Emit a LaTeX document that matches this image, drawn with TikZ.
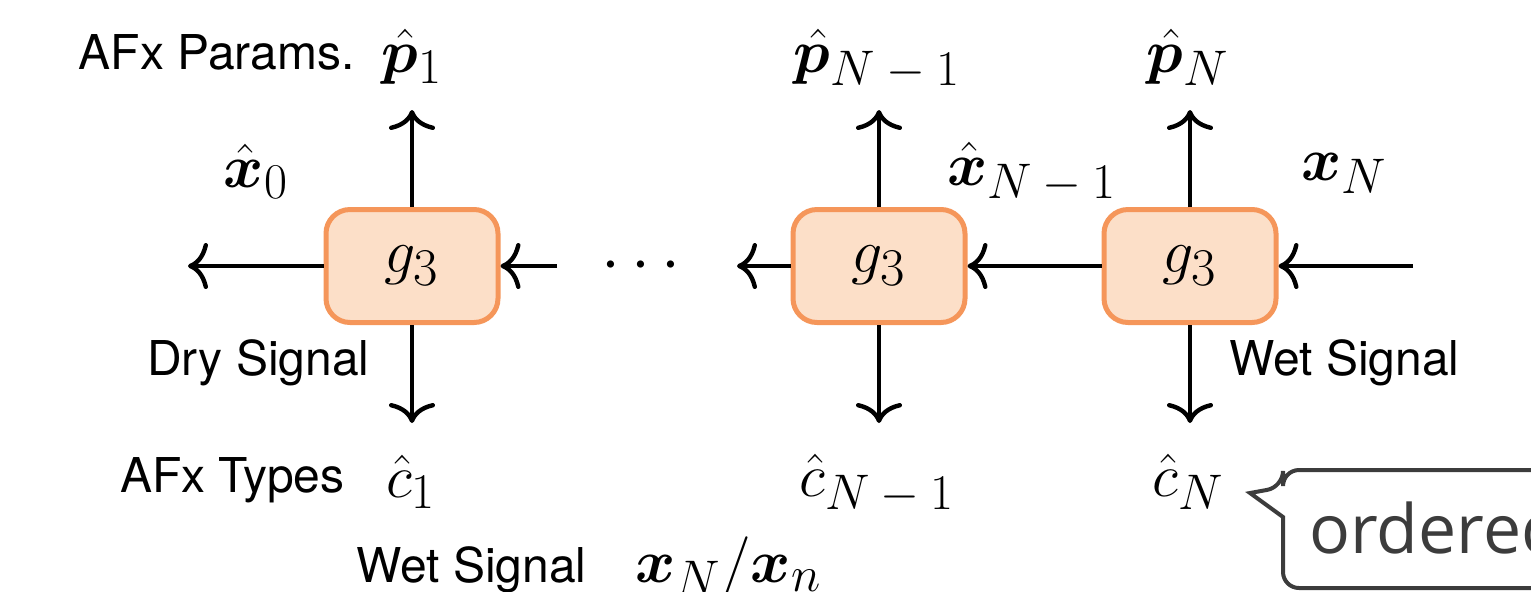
\RequirePackage{fix-cm}
\documentclass[tikz,border=0pt]{standalone}
\usepackage{amsmath}
\usepackage{bm}
\usepackage[no-math]{fontspec}
\setmainfont{TeX Gyre Heros}
\newfontfamily\bubblefont{Open Sans}
\usetikzlibrary{arrows.meta,positioning}

\definecolor{gfill}{RGB}{252,223,200}
\definecolor{gedge}{RGB}{245,150,90}
\definecolor{bubbleline}{RGB}{60,60,60}

% subscripts set in text style, a bit smaller than the base
\newcommand{\lsub}[1]{_{\mbox{\fontsize{25}{28}\selectfont$#1$}}}
\newcommand{\gsub}[1]{_{\mbox{\fontsize{26.5}{28}\selectfont$#1$}}}

\tikzset{
  gblock/.style={draw=gedge, fill=gfill, line width=2.5pt, rounded corners=12pt,
    minimum width=86pt, minimum height=56.5pt, inner sep=0pt,
    font=\fontsize{31}{34}\selectfont},
  flow/.style={-{Computer Modern Rightarrow[length=10pt,width=23pt]}, line width=2.2pt},
  lbl/.style={font=\fontsize{24}{28}\selectfont, inner sep=0pt, anchor=base east},
  mlbl/.style={font=\fontsize{30.5}{34}\selectfont, inner sep=0pt, anchor=base},
}

\begin{document}
\begin{tikzpicture}[x=0.5pt,y=-0.5pt]
\useasboundingbox (0,0) rectangle (1531,591);
\clip (0,0) rectangle (1531,591);

% the three blocks
\node[gblock] (g1) at (412,266) {$g\gsub{3}$};
\node[gblock] (g2) at (879,266) {$g\gsub{3}$};
\node[gblock] (g3) at (1190,266) {$g\gsub{3}$};
\node[mlbl, font=\fontsize{34}{38}\selectfont] (dots) at (647,281) {$\cdots$};

% free ends of the arrows
\coordinate (x0end) at (188,266);
\coordinate (in1) at (557,266);
\coordinate (out2) at (737,266);
\coordinate (inN) at (1413,266);
\coordinate (top) at (0,110);
\coordinate (bot) at (0,423);

\draw[flow] (g1) -- (x0end);
\draw[flow] (in1) -- (g1);
\draw[flow] (g2) -- (out2);
\draw[flow] (g3) -- (g2);
\draw[flow] (inN) -- (g3);
\foreach \g in {g1,g2,g3} {
  \draw[flow] (\g) -- (\g |- top);
  \draw[flow] (\g) -- (\g |- bot);
}

% parameters and types
\node[mlbl] (p1) at (412,72) {$\hat{\bm p}\lsub{1}$};
\node[mlbl] (pN1) at (877,72) {$\hat{\bm p}\lsub{N-1}$};
\node[mlbl] (pN) at (1188,72) {$\hat{\bm p}\lsub{N}$};
\node[mlbl] (c1) at (411,497) {$\hat{c}\lsub{1}$};
\node[mlbl] (cN1) at (877,496) {$\hat{c}\lsub{N-1}$};
\node[mlbl] (cN) at (1188,496) {$\hat{c}\lsub{N}$};

% signals
\node[mlbl] (x0) at (256,187) {$\hat{\bm x}\lsub{0}$};
\node[mlbl] (xN1) at (1032,185) {$\hat{\bm x}\lsub{N-1}$};
\node[mlbl] (xN) at (1344,180) {$\bm x\lsub{N}$};

% text labels
\node[lbl] (params) at (355,69) {AFx Params.};
\node[lbl] (dry) at (370,375) {Dry Signal};
\node[lbl] (types) at (345,492) {AFx Types};
\node[lbl, anchor=base west] (wetR) at (1229,375) {Wet Signal};
\node[lbl, anchor=base west] (wetB) at (356,582) {Wet Signal};
\node[mlbl, anchor=base west] (xNn) at (635,582) {$\bm x\lsub{N}/\bm x\lsub{n}$};

% callout
\draw[bubbleline, line width=2pt]
  (1700,470) [rounded corners=8pt] -- (1283,470) -- (1283,487) [sharp corners] -- (1250,493) -- (1283,517) [rounded corners=8pt] -- (1283,588) -- (1700,588);
\node[font=\bubblefont\fontsize{34}{38}\selectfont, text=bubbleline, anchor=base west, inner sep=0pt] (ord) at (1309,553) {ordered};
\end{tikzpicture}
\end{document}
